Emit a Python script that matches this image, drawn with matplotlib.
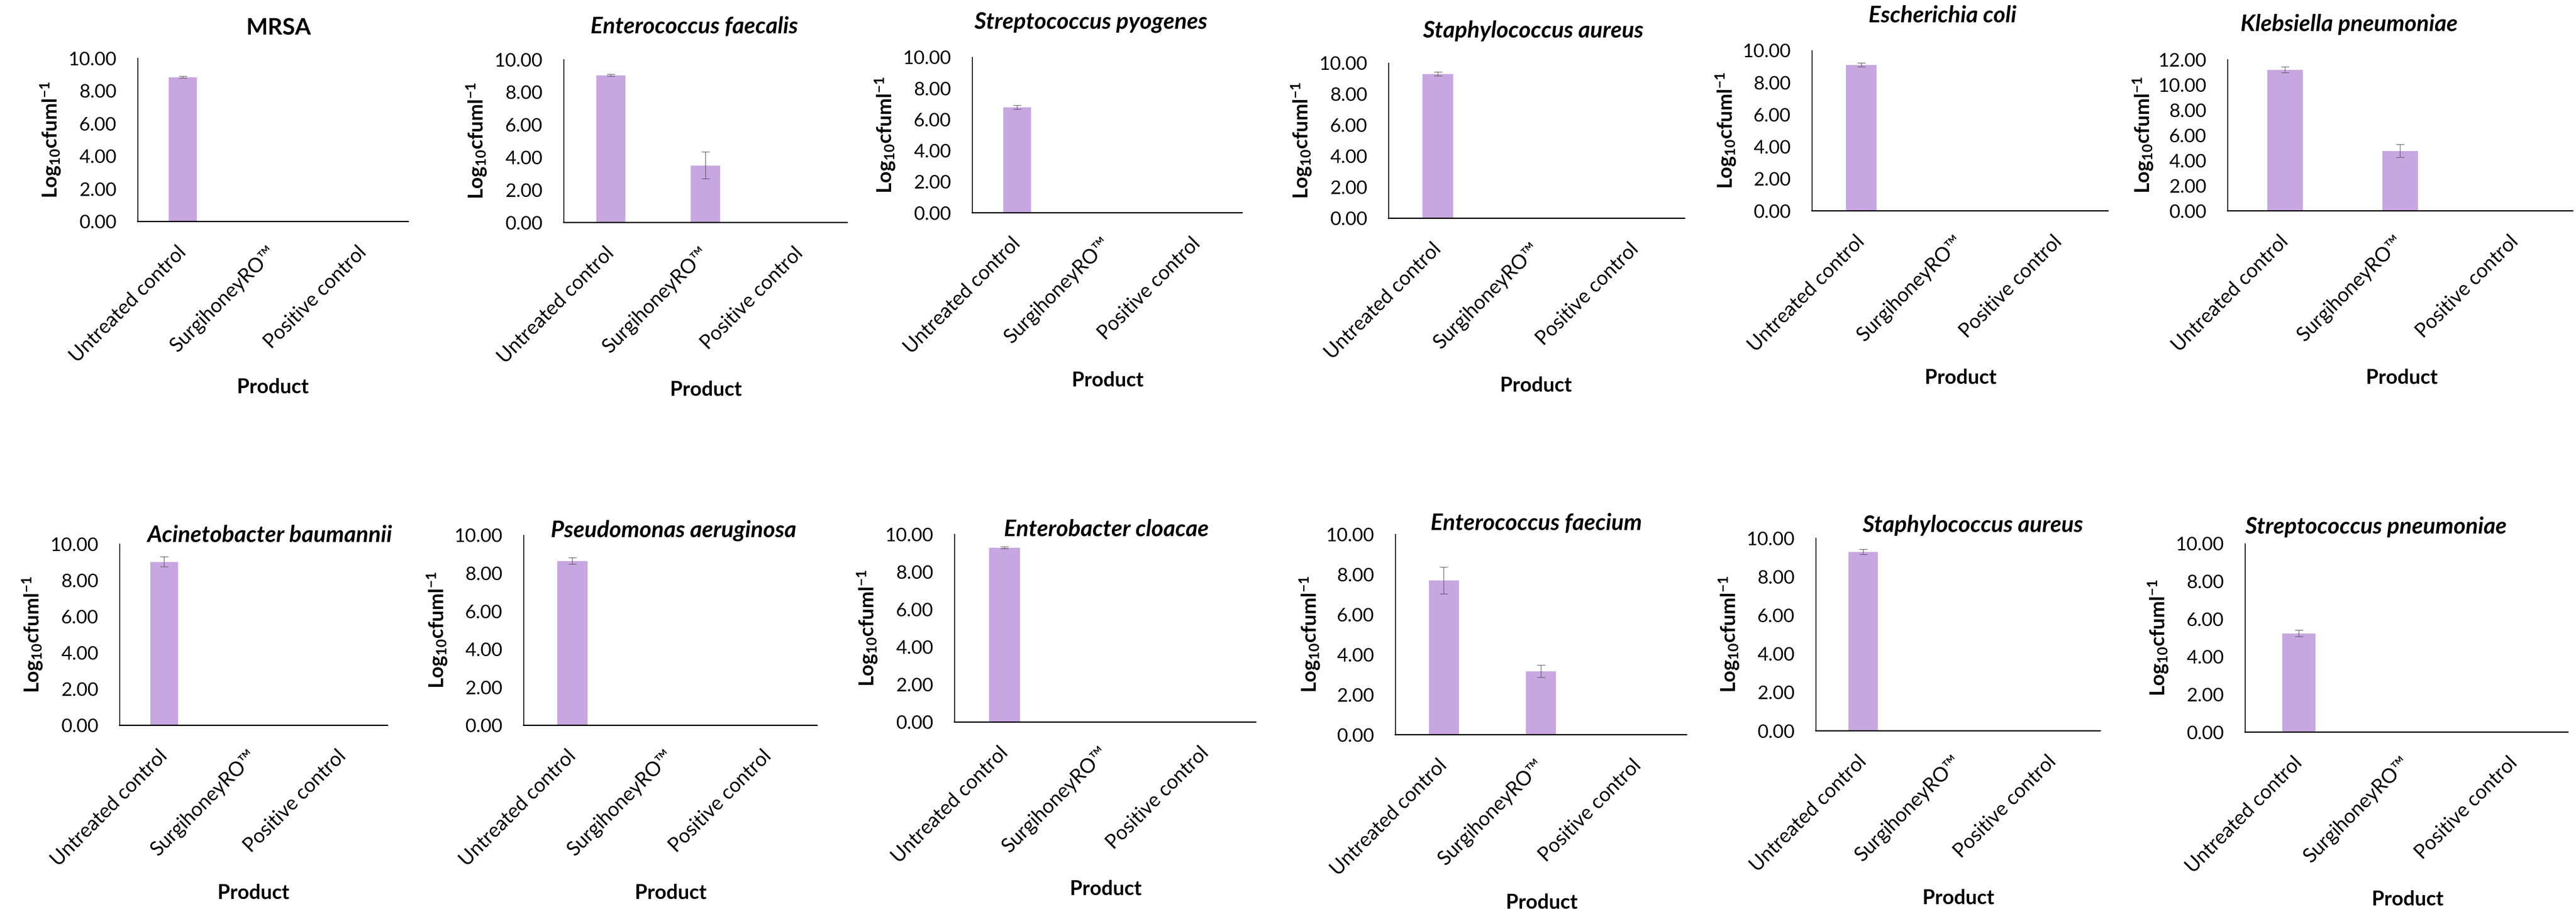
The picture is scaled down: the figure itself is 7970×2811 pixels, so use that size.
import matplotlib
matplotlib.use('Agg')
import matplotlib.pyplot as plt

plt.rcParams['font.family'] = ['Lato', 'DejaVu Sans']
plt.rcParams['mathtext.fontset'] = 'custom'
plt.rcParams['mathtext.rm'] = 'Lato'
plt.rcParams['mathtext.bf'] = 'Lato:bold'
plt.rcParams['mathtext.it'] = 'Lato:italic'

W, H = 7970, 2811

categories = ['Untreated control', 'SurgihoneyRO™', 'Positive control']

titles = ['MRSA', 'Enterococcus faecalis', 'Streptococcus pyogenes',
          'Staphylococcus aureus', 'Escherichia coli', 'Klebsiella pneumoniae',
          'Acinetobacter baumannii', 'Pseudomonas aeruginosa', 'Enterobacter cloacae',
          'Enterococcus faecium', 'Staphylococcus aureus', 'Streptococcus pneumoniae']

means = [[8.84, 0, 0], [9.03, 3.50, 0], [6.78, 0, 0],
         [9.29, 0, 0], [9.10, 0, 0], [11.19, 4.75, 0],
         [9.01, 0, 0], [8.64, 0, 0], [9.28, 0, 0],
         [7.69, 3.16, 0], [9.28, 0, 0], [5.23, 0, 0]]

errors = [[0.06, 0, 0], [0.06, 0.82, 0], [0.13, 0, 0],
          [0.12, 0, 0], [0.12, 0, 0], [0.23, 0.51, 0],
          [0.28, 0, 0], [0.17, 0, 0], [0.05, 0, 0],
          [0.67, 0.31, 0], [0.13, 0, 0], [0.17, 0, 0]]

ymax = [10, 10, 10, 10, 10, 12, 10, 10, 10, 10, 10, 10]

# pixel layout: axis left, right, top, bottom, title x/y, ylabel x, product x/y
layout = [(426, 1263, 180, 685, 862, 87, 156, 844, 1198),
          (1744, 2621, 184, 688, 2148, 83, 1474, 2184, 1205),
          (3008, 3843, 177, 658, 3375, 70, 2738, 3427, 1176),
          (4296, 5212, 195, 675, 4744, 95, 4026, 4752, 1192),
          (5606, 6522, 156, 652, 6010, 48, 5339, 6066, 1169),
          (6892, 7960, 184, 652, 7268, 76, 6630, 7431, 1169),
          (370, 1199, 1682, 2243, 835, 1655, 100, 784, 2762),
          (1620, 2528, 1655, 2243, 2084, 1641, 1352, 2075, 2762),
          (2953, 3885, 1652, 2233, 3423, 1637, 2683, 3421, 2750),
          (4317, 5218, 1652, 2272, 4753, 1619, 4052, 4770, 2791),
          (5618, 6498, 1664, 2260, 6104, 1625, 5349, 6059, 2777),
          (6946, 7945, 1681, 2264, 7351, 1630, 6677, 7449, 2782)]

fig = plt.figure(figsize=(W / 100, H / 100), dpi=100)

for i in range(12):
    x0, x1, yt, yb, tx, ty, lx, px, py = layout[i]
    ax = fig.add_axes([x0 / W, 1 - yb / H, (x1 - x0) / W, (yb - yt) / H])
    xs = range(len(categories))
    ax.bar(xs, means[i], width=0.31, color='#c8a6e2', zorder=2)
    for x, m, e in zip(xs, means[i], errors[i]):
        if e > 0:
            ax.errorbar(x, m, yerr=e, fmt='none', ecolor='#5a5a5a',
                        elinewidth=1.3, capsize=9, capthick=1.3, zorder=3)
    ax.set_xlim(-0.5, 2.5)
    ax.set_ylim(0, ymax[i])
    ax.set_yticks(range(0, ymax[i] + 1, 2))
    ax.set_yticklabels(['%.2f' % v for v in range(0, ymax[i] + 1, 2)], fontsize=42)
    ax.set_xticks(list(xs))
    ax.set_xticklabels(categories, fontsize=44, rotation=45, ha='right',
                       va='center', rotation_mode='anchor')
    ax.tick_params(axis='both', length=0)
    ax.tick_params(axis='y', pad=47)
    ax.tick_params(axis='x', pad=62)
    for s in ['top', 'right']:
        ax.spines[s].set_visible(False)
    ax.spines['left'].set_linewidth(2.0)
    ax.spines['bottom'].set_linewidth(2.8)
    ax.set_facecolor('none')

    style = 'normal' if titles[i] == 'MRSA' else 'italic'
    fig.text(tx / W, 1 - ty / H, titles[i], fontsize=51, fontweight='bold',
             fontstyle=style, ha='center', va='center')
    fig.text(lx / W, 1 - (yt + yb) / 2 / H, r'Log$_\mathbf{10}$cfuml$^\mathbf{-1}$',
             fontsize=45, fontweight='bold', rotation=90, ha='center', va='center')
    fig.text(px / W, 1 - py / H, 'Product', fontsize=45, fontweight='bold',
             ha='center', va='center')

fig.savefig('out.png', dpi=100, facecolor='white')
